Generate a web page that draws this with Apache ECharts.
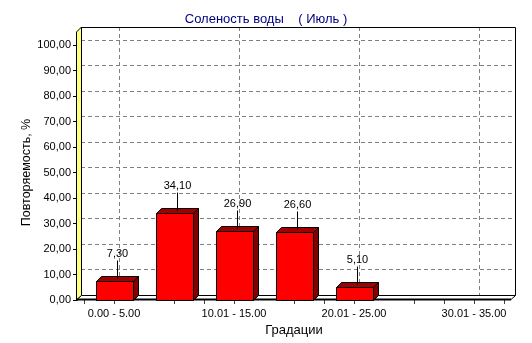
<!DOCTYPE html>
<html><head><meta charset="utf-8">
<script src="https://cdn.jsdelivr.net/npm/echarts@6/dist/echarts.min.js"></script>
<style>html,body{margin:0;padding:0;background:#fff}#c{width:532px;height:343px}</style>
</head><body><div id="c"></div>
<script>
const titleText = 'Соленость воды    ( Июль )';
const xTitle = 'Градации';
const yTitle = 'Повторяемость, %';
const categories = ['0.00 - 5.00','5.01 - 10.00','10.01 - 15.00','15.01 - 20.00','20.01 - 25.00','25.01 - 30.00','30.01 - 35.00'];
const values = [7.30, 34.10, 26.90, 26.60, 5.10, 0, 0];
const yMin = 0, yMax = 100, yStep = 10;

const FONT = 'Liberation Sans, Arial, sans-serif';
const fmt = v => v.toFixed(2).replace('.', ',');
const chart = echarts.init(document.getElementById('c'), null, {renderer:'canvas'});
const dash = {color:'#808080', type:[4,3], width:1};
const D = 5;

chart.setOption({
  backgroundColor:'#fff',
  animation:false,
  title:{text:titleText, left:'center', top:8, textStyle:{fontFamily:FONT, fontSize:13, fontWeight:'normal', color:'#000080'}},
  grid:[
    {left:84, right:28, top:45, bottom:43},
    {left:81, right:17, top:27, bottom:48},
    {left:119, right:53, top:27, bottom:48}
  ],
  xAxis:[
    {type:'category', gridIndex:0, data:categories, boundaryGap:true,
     axisLine:{show:false}, axisTick:{show:true, length:4, lineStyle:{color:'#404040'}},
     axisLabel:{interval:1, margin:8, fontFamily:FONT, fontSize:11, color:'#000'},
     name:xTitle, nameLocation:'middle', nameGap:24, nameMoveOverlap:false,
     nameTextStyle:{fontFamily:FONT, fontSize:13, color:'#000'}},
    {type:'category', gridIndex:0, data:categories, boundaryGap:true, position:'bottom',
     axisLine:{show:false}, axisTick:{show:true, alignWithLabel:true, interval:0, length:4, lineStyle:{color:'#404040'}},
     axisLabel:{show:false}},
    {type:'category', gridIndex:1, data:categories, show:false},
    {type:'category', gridIndex:2, data:categories, boundaryGap:false,
     axisLine:{show:false}, axisTick:{show:false}, axisLabel:{show:false},
     splitLine:{show:true, interval:1, lineStyle:dash}}
  ],
  yAxis:[
    {type:'value', gridIndex:0, min:yMin, max:yMax, interval:yStep, offset:7,
     axisLine:{show:true, lineStyle:{color:'#000', width:2}},
     axisTick:{show:true, length:4, lineStyle:{color:'#000'}},
     axisLabel:{margin:6, formatter:fmt, fontFamily:FONT, fontSize:11, color:'#000'},
     splitLine:{show:false},
     name:yTitle, nameLocation:'middle', nameGap:44, nameRotate:90, nameMoveOverlap:false,
     nameTextStyle:{fontFamily:FONT, fontSize:12.5, color:'#000'}},
    {type:'value', gridIndex:1, min:0, max:105, interval:yStep,
     axisLine:{show:false}, axisTick:{show:false}, axisLabel:{show:false},
     splitLine:{show:true, lineStyle:dash}},
    {type:'value', gridIndex:2, min:0, max:100, show:false, splitLine:{show:false}}
  ],
  graphic:[
    {type:'polygon', z:1, shape:{points:[[76.5,300],[76.5,32],[81.5,27],[81.5,295.5]]}, style:{fill:'#ffff80', stroke:'#000', lineWidth:1}},
    {type:'polygon', z:1, shape:{points:[[77,299.5],[81.5,295.5],[515.5,295.5],[511,299.5]]}, style:{fill:'#fff', stroke:'#000', lineWidth:1}},
    {type:'line', z:1, shape:{x1:77, y1:299.5, x2:511, y2:299.5}, style:{stroke:'#000', lineWidth:2}},
    {type:'line', z:1, shape:{x1:81.5, y1:27.5, x2:515.5, y2:27.5}, style:{stroke:'#000', lineWidth:1}},
    {type:'line', z:1, shape:{x1:515.5, y1:27.5, x2:515.5, y2:295.5}, style:{stroke:'#000', lineWidth:1}}
  ],
  series:[{
    type:'custom', xAxisIndex:0, yAxisIndex:0, z:3,
    data: values.map((v,i)=>[i,v]),
    renderItem:(params, api)=>{
      const v = api.value(1);
      if (!v) return null;
      const p = api.coord([api.value(0), v]);
      const b = api.coord([api.value(0), 0]);
      const w = Math.round(api.size([1,0])[0]*0.62);
      const l = Math.round(p[0]-w/2)+0.5, r = l + w;
      const t = Math.round(p[1])+0.5, bb = Math.round(b[1])+0.5;
      const lx = Math.round(p[0] + D/2) + 0.5;
      return {type:'group', children:[
        {type:'polygon', shape:{points:[[r,t],[r+D,t-D],[r+D,bb-D],[r,bb]]}, style:{fill:'#800000', stroke:'#000', lineWidth:1}},
        {type:'polygon', shape:{points:[[l,t],[l+D,t-D],[r+D,t-D],[r,t]]}, style:{fill:'#a00000', stroke:'#000', lineWidth:1}},
        {type:'rect', shape:{x:l, y:t, width:w, height:bb-t}, style:{fill:'#ff0000', stroke:'#000', lineWidth:1}},
        {type:'line', shape:{x1:lx, y1:t-21, x2:lx, y2:t-D/2}, style:{stroke:'#000', lineWidth:1}},
        {type:'text', x:lx, y:t-28, style:{text:fmt(v), fill:'#000', font:'11px '+FONT, align:'center', verticalAlign:'middle'}}
      ]};
    }
  }]
});
</script></body></html>
